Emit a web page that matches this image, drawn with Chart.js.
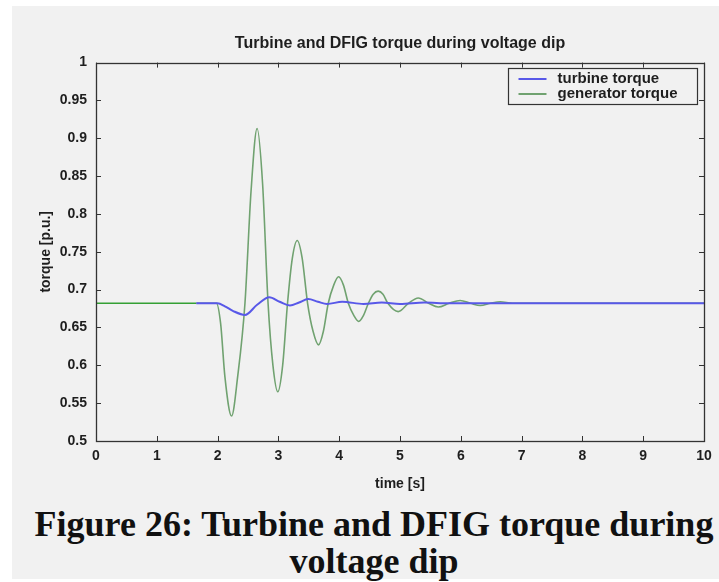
<!DOCTYPE html>
<html>
<head>
<meta charset="utf-8">
<script src="https://cdn.jsdelivr.net/npm/chart.js@4/dist/chart.umd.min.js"></script>
<style>
  html, body { margin: 0; padding: 0; background: #ffffff; }
  #bg { position: absolute; left: 12px; top: 6px; width: 707px; height: 573px; background: #f1f1f1; }
  #wrap { position: absolute; left: 0; top: 0; width: 719px; height: 500px; }
  #caption { position: absolute; left: 30px; width: 688px; top: 506px; text-align: center;
    font-family: "Liberation Serif", "Times New Roman", serif; font-weight: bold; font-size: 36px;
    line-height: 37px; color: #111; }
</style>
</head>
<body>
<div id="bg"></div>
<div id="wrap"><canvas id="c" width="719" height="500"></canvas></div>
<div id="caption">Figure 26: Turbine and DFIG torque during<br>voltage dip</div>
<script>
// ---- data ----
const chartTitle = "Turbine and DFIG torque during voltage dip";
const xAxisTitle = "time [s]";
const yAxisTitle = "torque [p.u.]";
const seriesNames = ["turbine torque", "generator torque"];

const xTickValues = [0, 1, 2, 3, 4, 5, 6, 7, 8, 9, 10];
const xTickLabels = ["0", "1", "2", "3", "4", "5", "6", "7", "8", "9", "10"];
const yTickValues = [0.5, 0.55, 0.6, 0.65, 0.7, 0.75, 0.8, 0.85, 0.9, 0.95, 1];
const yTickLabels = ["0.5", "0.55", "0.6", "0.65", "0.7", "0.75", "0.8", "0.85", "0.9", "0.95", "1"];

const turbineTime   = [1.65, 2.0, 2.12, 2.25, 2.45, 2.65, 2.85, 3.02, 3.19, 3.34, 3.49, 3.65, 3.8, 4.05, 4.4, 4.7, 5.0, 5.4, 5.8, 10];
const turbineTorque = [0.682, 0.682, 0.678, 0.672, 0.6665, 0.680, 0.690, 0.684, 0.679, 0.683, 0.6875, 0.684, 0.681, 0.684, 0.681, 0.683, 0.681, 0.683, 0.682, 0.682];

const generatorTime   = [0, 1.65, 1.98, 2.05, 2.12, 2.23, 2.33, 2.45, 2.55, 2.65, 2.74, 2.83, 2.91, 2.99, 3.07, 3.15, 3.23, 3.31, 3.39, 3.48, 3.57, 3.66, 3.74, 3.82, 3.91, 3.99, 4.07, 4.15, 4.24, 4.32, 4.40, 4.48, 4.56, 4.64, 4.72, 4.80, 4.97, 5.14, 5.30, 5.47, 5.63, 5.81, 5.99, 6.16, 6.32, 6.49, 6.65, 6.85, 10];
const generatorTorque = [0.682, 0.682, 0.682, 0.655, 0.585, 0.533, 0.585, 0.682, 0.83, 0.913, 0.84, 0.682, 0.60, 0.565, 0.60, 0.682, 0.742, 0.765, 0.742, 0.682, 0.645, 0.627, 0.645, 0.682, 0.706, 0.717, 0.706, 0.682, 0.666, 0.658, 0.666, 0.682, 0.694, 0.698, 0.694, 0.682, 0.671, 0.682, 0.689, 0.682, 0.677, 0.682, 0.6856, 0.682, 0.679, 0.682, 0.684, 0.682, 0.682];

// ---- build points ----
const toPts = (xs, ys) => xs.map((x, i) => ({ x: x, y: ys[i] }));

const FONT = '"Liberation Sans", Arial, sans-serif';
const axisColor = '#333333';
const textColor = '#1e1e1e';
const blue = 'rgb(88, 88, 232)';
const green = 'rgb(112, 162, 112)';
const greenFlat = 'rgb(52, 160, 52)';

// Inward MATLAB-style ticks, box frame, and boxed legend
const matlabFrame = {
  id: 'matlabFrame',
  afterLayout(chart) {
    const a = chart.chartArea;
    if (chart.titleBlock) { chart.titleBlock.left = a.left; chart.titleBlock.right = a.right; }
  },
  afterDatasetsDraw(chart) {
    const ctx = chart.ctx, a = chart.chartArea;
    const xs = chart.scales.x, ys = chart.scales.y;
    const tl = 5;
    ctx.save();
    ctx.strokeStyle = axisColor;
    ctx.lineWidth = 1;
    ctx.beginPath();
    xs.ticks.forEach((t, i) => {
      const px = Math.round(xs.getPixelForTick(i)) + 0.5;
      ctx.moveTo(px, a.bottom); ctx.lineTo(px, a.bottom - tl);
      ctx.moveTo(px, a.top); ctx.lineTo(px, a.top + tl);
    });
    ys.ticks.forEach((t, i) => {
      const py = Math.round(ys.getPixelForTick(i)) + 0.5;
      ctx.moveTo(a.left, py); ctx.lineTo(a.left + tl, py);
      ctx.moveTo(a.right, py); ctx.lineTo(a.right - tl, py);
    });
    ctx.stroke();
    ctx.lineWidth = 1.3;
    ctx.strokeRect(Math.round(a.left) + 0.5, Math.round(a.top) + 0.5, Math.round(a.right - a.left), Math.round(a.bottom - a.top));

    // legend box (top-right inside plot)
    const ds = chart.data.datasets;
    const rowH = 15;
    const boxW = 189, boxH = ds.length * rowH + 6;
    const bx = Math.round(a.right - 7 - boxW) + 0.5, by = Math.round(a.top + 5) + 0.5;
    ctx.fillStyle = '#f1f1f1';
    ctx.fillRect(bx, by, boxW, boxH);
    ctx.strokeStyle = axisColor;
    ctx.lineWidth = 1.2;
    ctx.strokeRect(bx, by, boxW, boxH);
    ctx.font = 'bold 15px ' + FONT;
    ctx.textBaseline = 'middle';
    ctx.textAlign = 'left';
    ds.forEach((d, i) => {
      const cy = by + 3 + rowH * (i + 0.5);
      ctx.strokeStyle = d.borderColor;
      ctx.lineWidth = 2;
      ctx.beginPath(); ctx.moveTo(bx + 10, cy); ctx.lineTo(bx + 38, cy); ctx.stroke();
      ctx.fillStyle = textColor;
      ctx.fillText(d.label, bx + 49, cy);
    });
    ctx.restore();
  }
};

new Chart(document.getElementById('c'), {
  type: 'line',
  data: {
    datasets: [
      {
        label: seriesNames[0],
        data: toPts(turbineTime, turbineTorque),
        borderColor: blue,
        borderWidth: 2,
        pointRadius: 0,
        fill: false,
        cubicInterpolationMode: 'monotone'
      },
      {
        label: seriesNames[1],
        data: toPts(generatorTime, generatorTorque),
        borderColor: green,
        borderWidth: 1.6,
        pointRadius: 0,
        fill: false,
        cubicInterpolationMode: 'monotone',
        segment: { borderColor: c => (c.p1.parsed.x <= 1.65 ? greenFlat : undefined) }
      }
    ]
  },
  options: {
    responsive: false,
    animation: false,
    events: [],
    layout: { padding: { left: 0, right: 15, top: 0, bottom: 0 } },
    plugins: {
      legend: { display: false },
      tooltip: { enabled: false },
      title: {
        display: true,
        text: chartTitle,
        color: textColor,
        font: { family: FONT, size: 16, weight: 'bold' },
        padding: { top: 34, bottom: 9.4 }
      }
    },
    scales: {
      x: {
        type: 'linear',
        min: 0, max: 10,
        afterFit: s => { s.height = 59; },
        afterBuildTicks: s => { s.ticks = xTickValues.map(v => ({ value: v })); },
        ticks: {
          autoSkip: false, maxRotation: 0, padding: 7,
          color: textColor,
          font: { family: FONT, size: 14, weight: 'bold' },
          callback: (v, i) => xTickLabels[i]
        },
        grid: { display: false, drawTicks: false },
        border: { display: false },
        title: {
          display: true, text: xAxisTitle, color: textColor,
          font: { family: FONT, size: 14, weight: 'bold' },
          padding: { top: 0, bottom: 7 }
        }
      },
      y: {
        type: 'linear',
        min: 0.5, max: 1,
        afterFit: s => { s.width = 96; },
        afterBuildTicks: s => { s.ticks = yTickValues.map(v => ({ value: v })); },
        ticks: {
          autoSkip: false, padding: 9,
          color: textColor,
          font: { family: FONT, size: 14, weight: 'bold' },
          callback: (v, i) => yTickLabels[i]
        },
        grid: { display: false, drawTicks: false },
        border: { display: false },
        title: {
          display: true, text: yAxisTitle, color: textColor,
          font: { family: FONT, size: 14, weight: 'bold' },
          padding: { top: 38, bottom: 0 }
        }
      }
    }
  },
  plugins: [matlabFrame]
});
</script>
</body>
</html>
